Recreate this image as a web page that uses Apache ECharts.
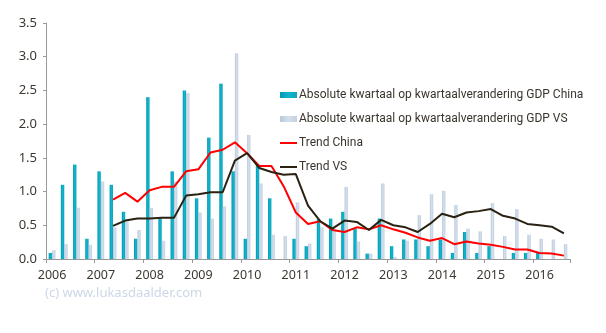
<!DOCTYPE html>
<html>
<head>
<meta charset="utf-8">
<script src="https://cdn.jsdelivr.net/npm/echarts@6/dist/echarts.min.js"></script>
<style>
html,body{margin:0;padding:0;background:#fff;}
#chart{width:606px;height:333px;}
</style>
</head>
<body>
<div id="chart"></div>
<script>
// Quarters 2006 K1 .. 2016 K3
const categories = [
  '2006 K1','2006 K2','2006 K3','2006 K4',
  '2007 K1','2007 K2','2007 K3','2007 K4',
  '2008 K1','2008 K2','2008 K3','2008 K4',
  '2009 K1','2009 K2','2009 K3','2009 K4',
  '2010 K1','2010 K2','2010 K3','2010 K4',
  '2011 K1','2011 K2','2011 K3','2011 K4',
  '2012 K1','2012 K2','2012 K3','2012 K4',
  '2013 K1','2013 K2','2013 K3','2013 K4',
  '2014 K1','2014 K2','2014 K3','2014 K4',
  '2015 K1','2015 K2','2015 K3','2015 K4',
  '2016 K1','2016 K2','2016 K3'
];

const chinaChange = [
  0.09, 1.10, 1.40, 0.30,
  1.30, 1.10, 0.70, 0.30,
  2.40, 0.60, 1.30, 2.50,
  0.90, 1.80, 2.60, 1.30,
  0.30, 1.40, 0.90, 0.00,
  0.30, 0.19, 0.59, 0.60,
  0.70, 0.45, 0.08, 0.60,
  0.19, 0.29, 0.29, 0.19,
  0.29, 0.09, 0.40, 0.09,
  0.19, 0.00, 0.09, 0.09,
  0.09, 0.00, 0.00
];

const vsChange = [
  0.13, 0.22, 0.76, 0.21,
  1.15, 0.47, 0.58, 0.43,
  0.76, 0.27, 1.15, 2.46,
  0.69, 0.60, 0.78, 3.05,
  1.84, 1.12, 0.36, 0.34,
  0.84, 0.23, 0.47, 0.45,
  1.07, 0.26, 0.08, 1.12,
  0.03, 0.27, 0.65, 0.96,
  1.01, 0.80, 0.45, 0.41,
  0.83, 0.34, 0.74, 0.36,
  0.30, 0.29, 0.22
];

const trendChina = [
  null, null, null, null,
  null, 0.88, 0.98, 0.85,
  1.02, 1.07, 1.07, 1.30,
  1.33, 1.58, 1.62, 1.73,
  1.57, 1.38, 1.38, 1.08,
  0.69, 0.52, 0.56, 0.43,
  0.40, 0.47, 0.44, 0.50,
  0.44, 0.39, 0.32, 0.27,
  0.31, 0.22, 0.26, 0.23,
  0.21, 0.18, 0.14, 0.14,
  0.09, 0.08, 0.05
];

const trendVS = [
  null, null, null, null,
  null, 0.49, 0.57, 0.60,
  0.60, 0.61, 0.61, 0.94,
  0.96, 0.99, 0.99, 1.46,
  1.57, 1.35, 1.29, 1.25,
  1.26, 0.79, 0.56, 0.45,
  0.57, 0.55, 0.43, 0.58,
  0.50, 0.47, 0.40, 0.52,
  0.67, 0.62, 0.69, 0.71,
  0.74, 0.64, 0.60, 0.52,
  0.50, 0.48, 0.38
];

const seriesNames = [
  'Absolute kwartaal op kwartaalverandering GDP China',
  'Absolute kwartaal op kwartaalverandering GDP VS',
  'Trend China',
  'Trend VS'
];

const FONT = 'Noto Sans';
const LINE_ICON = 'path://M0,0H17V2H0Z';
const chart = echarts.init(document.getElementById('chart'), null, {renderer: 'canvas'});

chart.setOption({
  animation: false,
  backgroundColor: '#ffffff',
  grid: {left: 46, right: 36, top: 23, bottom: 74, containLabel: false},
  legend: {
    orient: 'vertical',
    left: 275,
    top: 83,
    itemWidth: 17,
    itemHeight: 6,
    itemGap: 10,
    textStyle: {fontFamily: 'Roboto', fontSize: 12, color: '#3a342c', padding: [0, 0, 0, -3], lineHeight: 14},
    data: [
      {name: seriesNames[0], icon: 'rect'},
      {name: seriesNames[1], icon: 'rect'},
      {name: seriesNames[2], icon: LINE_ICON, itemStyle: {color: '#ff0000'}},
      {name: seriesNames[3], icon: LINE_ICON, itemStyle: {color: '#2a2111'}}
    ]
  },
  graphic: [{
    type: 'text',
    left: 45,
    top: 287,
    style: {text: '(c) www.lukasdaalder.com', fill: '#cdd8e6', font: '13px "Noto Sans"'}
  }],
  xAxis: {
    type: 'category',
    data: categories,
    boundaryGap: true,
    axisLine: {lineStyle: {color: '#9a9a9a', width: 1}},
    axisTick: {
      show: true,
      alignWithLabel: false,
      length: 4,
      interval: function (idx) { return idx % 4 === 0; },
      lineStyle: {color: '#9a9a9a'}
    },
    axisLabel: {
      interval: function (idx) { return idx % 4 === 0; },
      formatter: function (v) { return v.slice(0, 4); },
      fontFamily: FONT,
      fontSize: 12.5,
      color: '#3d372f',
      margin: 10
    },
    splitLine: {show: false}
  },
  yAxis: {
    type: 'value',
    min: 0,
    max: 3.5,
    interval: 0.5,
    axisLine: {show: true, lineStyle: {color: '#9a9a9a', width: 1}},
    axisTick: {show: true, length: 3, lineStyle: {color: '#9a9a9a'}},
    axisLabel: {
      formatter: function (v) { return v.toFixed(1); },
      fontFamily: FONT,
      fontSize: 13,
      color: '#3d372f',
      margin: 9
    },
    splitLine: {show: false}
  },
  series: [
    {
      name: seriesNames[0],
      type: 'bar',
      data: chinaChange,
      barGap: '0%',
      barCategoryGap: '44%',
      itemStyle: {
        color: new echarts.graphic.LinearGradient(0, 0, 1, 0, [
          {offset: 0, color: '#0098b4'},
          {offset: 0.5, color: '#12b4cb'},
          {offset: 1, color: '#0aa6c0'}
        ])
      }
    },
    {
      name: seriesNames[1],
      type: 'bar',
      data: vsChange,
      itemStyle: {
        color: new echarts.graphic.LinearGradient(0, 0, 1, 0, [
          {offset: 0, color: '#b7c7db'},
          {offset: 0.5, color: '#d5dfeb'},
          {offset: 1, color: '#c2d0e1'}
        ])
      }
    },
    {
      name: seriesNames[2],
      type: 'line',
      data: trendChina,
      symbol: 'none',
      connectNulls: false,
      z: 5,
      itemStyle: {color: '#ff0000'},
      lineStyle: {color: '#ff0000', width: 2}
    },
    {
      name: seriesNames[3],
      type: 'line',
      data: trendVS,
      symbol: 'none',
      connectNulls: false,
      z: 6,
      itemStyle: {color: '#2a2111'},
      lineStyle: {color: '#2a2111', width: 2}
    }
  ]
});
</script>
</body>
</html>
